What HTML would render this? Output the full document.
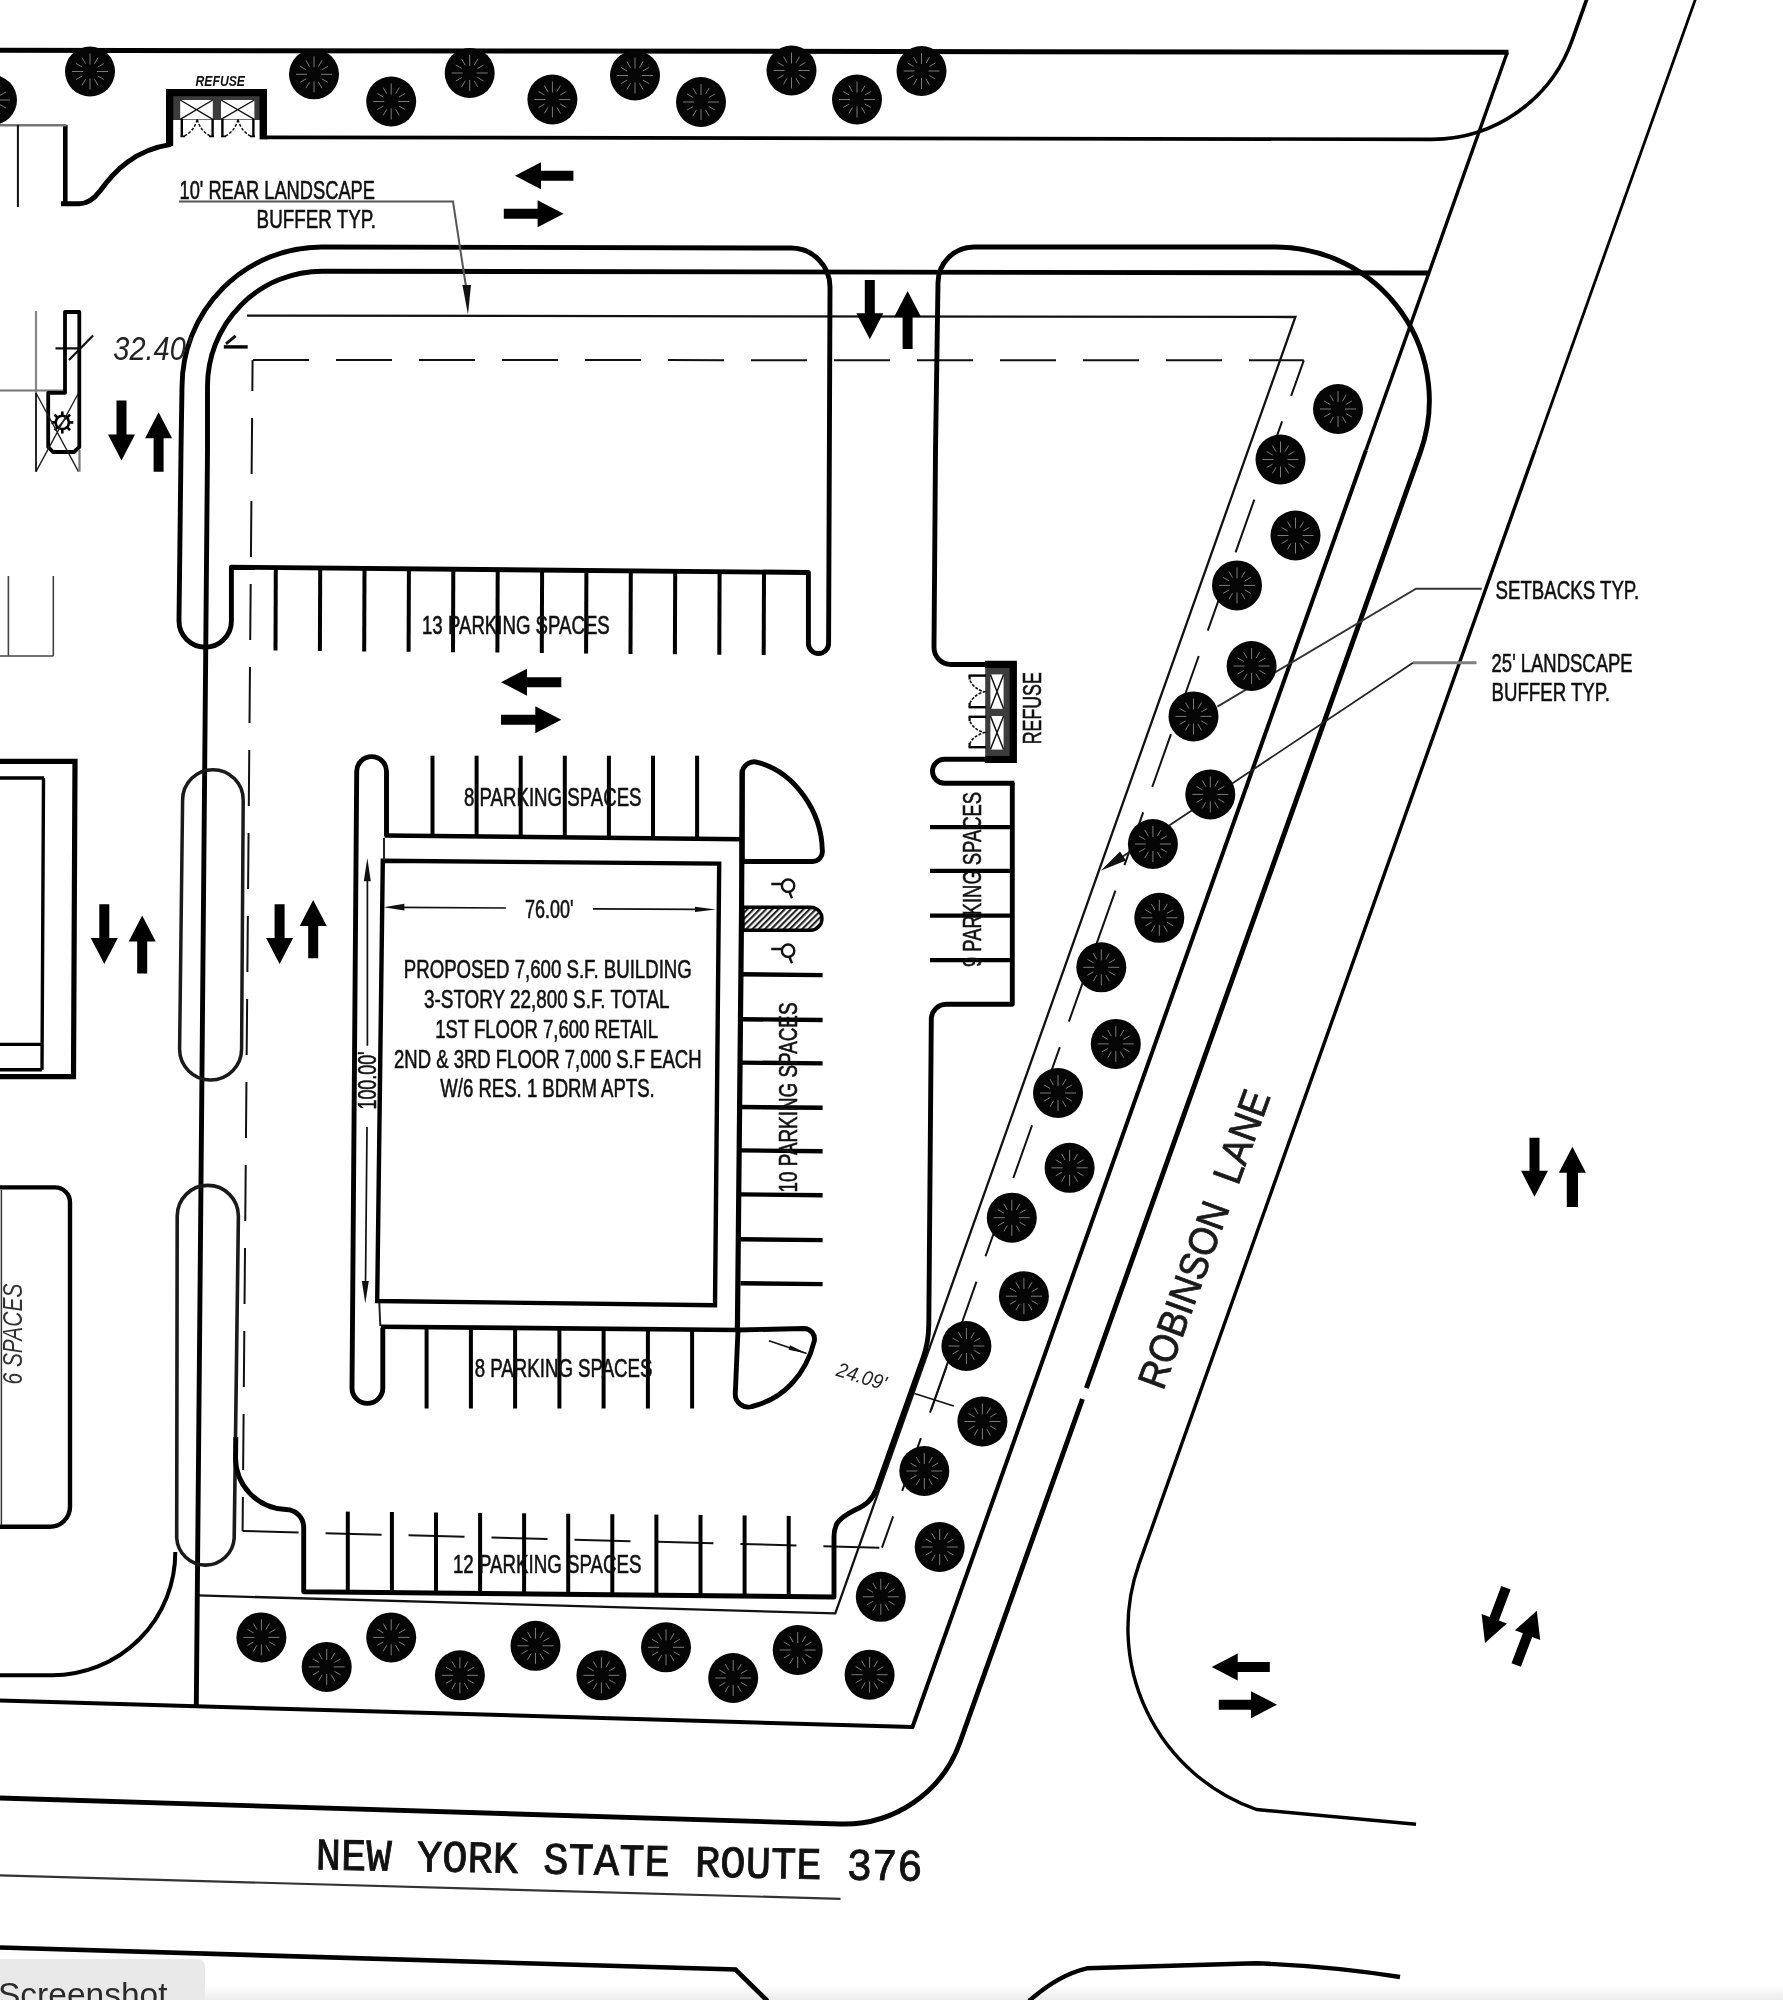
<!DOCTYPE html>
<html><head><meta charset="utf-8"><title>Site Plan</title>
<style>
html,body{margin:0;padding:0;background:#fff;}
body{width:1783px;height:2000px;overflow:hidden;position:relative;font-family:"Liberation Sans",sans-serif;}
svg{position:absolute;left:0;top:0;display:block;will-change:transform;}
svg text{font-family:"Liberation Sans",sans-serif;}
#tab{will-change:transform;position:absolute;left:0;top:1959px;width:205px;height:41px;background:#e9e9e9;border-top-right-radius:7px;overflow:hidden;}
#tab span{position:absolute;left:-2px;top:16px;font-size:33.5px;line-height:40px;color:#2b2b2b;white-space:nowrap;}
</style></head><body>
<svg width="1783" height="2000" viewBox="0 0 1783 2000">
<defs>
<g id="tr"><circle r="25" fill="#050505"/><path d="M0 -7L0 -18M4.5 -7.8L8 -13.9M7.8 -4.5L13.9 -8M7 -0L18 -0M7.8 4.5L13.9 8M4.5 7.8L8 13.9M0 7L0 18M-4.5 7.8L-8 13.9M-7.8 4.5L-13.9 8M-7 0L-18 0M-7.8 -4.5L-13.9 -8M-4.5 -7.8L-8 -13.9" stroke="#7a7a7a" stroke-width="1" fill="none"/></g>
<pattern id="hatch" width="4.4" height="4.4" patternUnits="userSpaceOnUse" patternTransform="rotate(45)"><rect width="4.4" height="4.4" fill="#fff"/><rect width="2.1" height="4.4" fill="#222"/></pattern>
<linearGradient id="bg" x1="0" y1="0" x2="0" y2="1"><stop offset="0" stop-color="#fff"/><stop offset="1" stop-color="#ececec"/></linearGradient>
</defs>
<rect width="1783" height="2000" fill="#fff"/>
<rect x="0" y="1986" width="1783" height="14" fill="url(#bg)"/>
<line x1="0" y1="50.3" x2="1508.5" y2="52.3" stroke="#000" stroke-width="5" />
<path d="M1507.3 52.3 L1366 450" fill="none" stroke="#000" stroke-width="3.4" />
<path d="M1366 450 L912.5 1727 L0 1700.5" fill="none" stroke="#000" stroke-width="4.0" stroke-linejoin="round"/>
<path d="M266 137.3 L1432 139.3 A149 149 0 0 0 1572.4 39.5 L1587 -1.5" fill="none" stroke="#000" stroke-width="3.7" />
<path d="M1695.5 -1 L1535.1 450" fill="none" stroke="#000" stroke-width="2.8" />
<path d="M1535.1 450 L1139.1 1563.8 A192 192 0 0 0 1256.5 1809.5 L1416 1824.2" fill="none" stroke="#000" stroke-width="3.4" stroke-linejoin="round"/>
<path d="M247 315.6 L1295.4 317 L835.3 1613.4 L197.7 1595.4" fill="none" stroke="#111" stroke-width="2.3" />
<path d="M253 360 L1303.8 360.3" fill="none" stroke="#111" stroke-width="2.0" stroke-dasharray="56 27"/>
<path d="M1303.8 360.3 L882 1547.7" fill="none" stroke="#111" stroke-width="2.0" stroke-dasharray="56 27" stroke-dashoffset="18.2"/>
<path d="M242.6 1531 L882 1547.7" fill="none" stroke="#111" stroke-width="2.0" stroke-dasharray="56 27"/>
<path d="M252.6 360 L242.6 1531" fill="none" stroke="#111" stroke-width="2.0" stroke-dasharray="56 27" stroke-dashoffset="25"/>
<path d="M196.3 1706 L203.3 925 L207.5 450 L207.5 387 A115 115 0 0 1 322.5 271.2 L1429 273" fill="none" stroke="#000" stroke-width="4.9" />
<path d="M231.4 567.2 L231.4 621 A26.2 26.2 0 0 1 179 621 L181 450 L182 387 A140 140 0 0 1 322 247 L791 248 A39 39 0 0 1 830 287 L828.6 643.5 A10.1 10.1 0 0 1 808.4 643.5 L808.4 572.5 Z" fill="none" stroke="#000" stroke-width="4.9" stroke-linejoin="round"/>
<line x1="275.8" y1="567.6" x2="275.5" y2="650.6" stroke="#000" stroke-width="4.0" />
<line x1="320.2" y1="568" x2="319.9" y2="651" stroke="#000" stroke-width="4.0" />
<line x1="364.5" y1="568.4" x2="364.2" y2="651.4" stroke="#000" stroke-width="4.0" />
<line x1="408.9" y1="568.8" x2="408.6" y2="651.8" stroke="#000" stroke-width="4.0" />
<line x1="453.3" y1="569.2" x2="453" y2="652.2" stroke="#000" stroke-width="4.0" />
<line x1="497.7" y1="569.6" x2="497.4" y2="652.6" stroke="#000" stroke-width="4.0" />
<line x1="542.1" y1="570.1" x2="541.8" y2="653.1" stroke="#000" stroke-width="4.0" />
<line x1="586.4" y1="570.5" x2="586.1" y2="653.5" stroke="#000" stroke-width="4.0" />
<line x1="630.8" y1="570.9" x2="630.5" y2="653.9" stroke="#000" stroke-width="4.0" />
<line x1="675.2" y1="571.3" x2="674.9" y2="654.3" stroke="#000" stroke-width="4.0" />
<line x1="719.6" y1="571.7" x2="719.3" y2="654.7" stroke="#000" stroke-width="4.0" />
<line x1="764" y1="572.1" x2="763.7" y2="655.1" stroke="#000" stroke-width="4.0" />
<path d="M987 664.5 L951 664.5 A17 17 0 0 1 934 647.5 L935.5 450 L938 283 A36 36 0 0 1 974 247 L1276.5 247 A153.5 153.5 0 0 1 1420.5 451.9 L960 1742.2 A123 123 0 0 1 840.3 1824 L0 1798" fill="none" stroke="#000" stroke-width="4.9" />
<line x1="1086.2" y1="1388" x2="1082.3" y2="1399" stroke="#fff" stroke-width="8" />
<rect x="166" y="89" width="101" height="31" fill="#3c3c3c"/>
<path d="M169.6 120 L169.6 92.6 L263.3 92.6 L263.3 120" fill="none" stroke="#000" stroke-width="7.2" />
<rect x="180.2" y="100" width="32.6" height="19.3" fill="#fff"/>
<rect x="221" y="100" width="33.4" height="19.3" fill="#fff"/>
<path d="M180.2 100L212.8 119.3M212.8 100L180.2 119.3M221 100L254.4 119.3M254.4 100L221 119.3" fill="none" stroke="#111" stroke-width="1.4" />
<line x1="169.6" y1="89" x2="169.6" y2="146" stroke="#000" stroke-width="7.2" />
<line x1="263.3" y1="89" x2="263.3" y2="139.4" stroke="#000" stroke-width="7.4" />
<line x1="181.8" y1="119" x2="181.8" y2="137" stroke="#000" stroke-width="2.4" />
<line x1="212.6" y1="119" x2="212.6" y2="137" stroke="#000" stroke-width="2.4" />
<line x1="222.4" y1="119" x2="222.4" y2="137" stroke="#000" stroke-width="2.4" />
<line x1="253.4" y1="119" x2="253.4" y2="137" stroke="#000" stroke-width="2.4" />
<path d="M180.6 136.4L185 136.4M209 136.4L214 136.4M221 136.4L226 136.4M250 136.4L255 136.4" fill="none" stroke="#000" stroke-width="1.8" />
<path d="M197.2 119.5 Q194 131 184.5 136 M197.2 119.5 Q200.5 131 210 136 M238 119.5 Q235 131 225.5 136 M238 119.5 Q241 131 250.5 136" fill="none" stroke="#111" stroke-width="1.5" stroke-dasharray="3 1.6"/>
<text x="195.5" y="86.3" font-size="15.5" text-anchor="start" fill="#111" textLength="49.5" lengthAdjust="spacingAndGlyphs" style="font-weight:bold;font-style:italic" >REFUSE</text>
<path d="M171 144.4 C135 150 115 170 100 191 C94 199 88 203.8 79 203.8 L61 203.8" fill="none" stroke="#000" stroke-width="5" />
<line x1="65.3" y1="206" x2="65.3" y2="125" stroke="#000" stroke-width="4.6" />
<line x1="0" y1="125.2" x2="66.5" y2="125.2" stroke="#777" stroke-width="2.4" />
<line x1="17.9" y1="125" x2="17.9" y2="207" stroke="#111" stroke-width="2" />
<text x="179.5" y="199.3" font-size="26" text-anchor="start" fill="#111" textLength="195.5" lengthAdjust="spacingAndGlyphs" style=""  stroke="#111" stroke-width="0.6">10' REAR LANDSCAPE</text>
<text x="256.6" y="228" font-size="26" text-anchor="start" fill="#111" textLength="119.5" lengthAdjust="spacingAndGlyphs" style=""  stroke="#111" stroke-width="0.6">BUFFER TYP.</text>
<path d="M179 201.6 L453 201.6 L466.5 290" fill="none" stroke="#555" stroke-width="2" />
<polygon points="468,314.5 462.4,285 471,285" fill="#111"/>
<text x="113.3" y="360.3" font-size="34" text-anchor="start" fill="#222" textLength="78" lengthAdjust="spacingAndGlyphs" style="font-style:italic" >32.40'</text>
<line x1="223.8" y1="346.9" x2="247.7" y2="346.9" stroke="#000" stroke-width="3.4" />
<path d="M226 343.8 L235.6 335.8" fill="none" stroke="#111" stroke-width="3" />
<path d="M93.1 335.4 L69 360.1 M55.5 348.3 L80.8 348.3" fill="none" stroke="#111" stroke-width="2.2" />
<line x1="36" y1="311" x2="36" y2="393" stroke="#888" stroke-width="2.2" />
<line x1="0" y1="390.6" x2="65" y2="390.6" stroke="#777" stroke-width="2" />
<path d="M65 312 L79.3 312 L79.3 447 L74 452 L53 452 L48.2 447 L48.2 392.8 L65 392.8 Z" fill="none" stroke="#000" stroke-width="3.8" stroke-linejoin="round"/>
<circle cx="62.3" cy="422.4" r="6.6" fill="none" stroke="#000" stroke-width="2.6"/>
<path d="M69.3 422.4L73.3 422.4M67.2 427.3L70.1 430.2M62.3 429.4L62.3 433.4M57.4 427.3L54.5 430.2M55.3 422.4L51.3 422.4M57.4 417.5L54.5 414.6M62.3 415.4L62.3 411.4M67.2 417.5L70.1 414.6" fill="none" stroke="#000" stroke-width="2.6" />
<path d="M58.5 427 L66 418" fill="none" stroke="#111" stroke-width="1.4" />
<path d="M36 393 L78.5 471.7 M78.5 393 L36 471.7" fill="none" stroke="#222" stroke-width="1.4" />
<line x1="36" y1="393" x2="36" y2="471.7" stroke="#111" stroke-width="1.8" />
<line x1="79.5" y1="450" x2="79.5" y2="471.7" stroke="#777" stroke-width="2.2" />
<path d="M8.4 576 L8.4 656 M53.3 576 L53.3 656 M0 656 L53.3 656" fill="none" stroke="#444" stroke-width="1.6" />
<path d="M0 761.3 L75 761.3 L73.5 1076.7 L0 1076.7" fill="none" stroke="#000" stroke-width="5.2" />
<path d="M0 778 L44 778 M43.5 778 L42 1069.7 M0 1044.4 L42 1044.4 M0 1069.7 L42 1069.7" fill="none" stroke="#000" stroke-width="3.4" />
<path d="M0 1187.4 L55 1187.4 A15 15 0 0 1 70 1202.4 L70 1507 A20 20 0 0 1 50 1526.7 L0 1526.7" fill="none" stroke="#000" stroke-width="4.4" />
<line x1="1.4" y1="1190" x2="1.4" y2="1525" stroke="#333" stroke-width="1.5" />
<text x="22" y="1384.6" font-size="27" text-anchor="start" fill="#333" textLength="101" lengthAdjust="spacingAndGlyphs" transform="rotate(-90 22 1384.6)" style="font-style:italic" >6 SPACES</text>
<path d="M182.6 800 A30.3 30.3 0 0 1 243.2 800 L241.6 1049 A31 31 0 0 1 179.6 1049 Z" fill="none" stroke="#1a1a1a" stroke-width="3.5" />
<path d="M177.2 1216 A30.6 30.6 0 0 1 238.4 1216 L234.2 1538 A28.8 28.8 0 0 1 176.7 1538 Z" fill="none" stroke="#1a1a1a" stroke-width="3.6" />
<path d="M175.3 1552 A123 123 0 0 1 52 1675.3 L0 1675.3" fill="none" stroke="#000" stroke-width="4" />
<path d="M235.8 1437 L235.6 1455 A52 52 0 0 0 286 1509.5 A18 18 0 0 1 303.7 1528 L303.7 1591.7 L834 1597 L834 1537 Q834 1529 837 1523.5 C840.5 1517.5 847 1514 855 1510 C866 1505 872 1500 876 1490" fill="none" stroke="#000" stroke-width="4.9" stroke-linejoin="round"/>
<line x1="347.8" y1="1592.1" x2="347.8" y2="1511.6" stroke="#000" stroke-width="4.0" />
<line x1="391.9" y1="1592.5" x2="391.9" y2="1512" stroke="#000" stroke-width="4.0" />
<line x1="436" y1="1593" x2="436" y2="1512.5" stroke="#000" stroke-width="4.0" />
<line x1="480.1" y1="1593.4" x2="480.1" y2="1512.9" stroke="#000" stroke-width="4.0" />
<line x1="524.1" y1="1593.8" x2="524.1" y2="1513.3" stroke="#000" stroke-width="4.0" />
<line x1="568.2" y1="1594.2" x2="568.2" y2="1513.7" stroke="#000" stroke-width="4.0" />
<line x1="612.3" y1="1594.7" x2="612.3" y2="1514.2" stroke="#000" stroke-width="4.0" />
<line x1="656.4" y1="1595.1" x2="656.4" y2="1514.6" stroke="#000" stroke-width="4.0" />
<line x1="700.5" y1="1595.5" x2="700.5" y2="1515" stroke="#000" stroke-width="4.0" />
<line x1="744.6" y1="1595.9" x2="744.6" y2="1515.4" stroke="#000" stroke-width="4.0" />
<line x1="788.7" y1="1596.4" x2="788.7" y2="1515.9" stroke="#000" stroke-width="4.0" />
<text x="452.9" y="1573" font-size="26" text-anchor="start" fill="#111" textLength="188.6" lengthAdjust="spacingAndGlyphs" style=""  stroke="#111" stroke-width="0.6">12 PARKING SPACES</text>
<path d="M386.5 836 L386.5 771.5 A14.9 14.9 0 0 0 356.7 771.5 L352 1388 A15.4 15.4 0 0 0 382.8 1388 L382.8 1328" fill="none" stroke="#000" stroke-width="4.9" />
<path d="M384.6 835.5 L742 839.2" fill="none" stroke="#000" stroke-width="4.4" />
<path d="M380.8 1326.7 L738.8 1330" fill="none" stroke="#000" stroke-width="4.6" />
<path d="M382.8 860.8 L719.2 863.6 L715 1305.2 L377.2 1301 Z" fill="none" stroke="#000" stroke-width="4.4" />
<line x1="432.5" y1="755.7" x2="432.5" y2="836.8" stroke="#000" stroke-width="4.0" />
<line x1="476.6" y1="755.7" x2="476.6" y2="837.1" stroke="#000" stroke-width="4.0" />
<line x1="520.7" y1="755.7" x2="520.7" y2="837.5" stroke="#000" stroke-width="4.0" />
<line x1="564.8" y1="755.7" x2="564.8" y2="837.8" stroke="#000" stroke-width="4.0" />
<line x1="608.9" y1="755.7" x2="608.9" y2="838.2" stroke="#000" stroke-width="4.0" />
<line x1="653" y1="755.7" x2="653" y2="838.5" stroke="#000" stroke-width="4.0" />
<line x1="697.1" y1="755.7" x2="697.1" y2="838.9" stroke="#000" stroke-width="4.0" />
<line x1="426.6" y1="1328.4" x2="426.6" y2="1408.5" stroke="#000" stroke-width="4.0" />
<line x1="470.9" y1="1328.7" x2="470.9" y2="1408.5" stroke="#000" stroke-width="4.0" />
<line x1="515.1" y1="1329.1" x2="515.1" y2="1408.5" stroke="#000" stroke-width="4.0" />
<line x1="559.4" y1="1329.4" x2="559.4" y2="1408.5" stroke="#000" stroke-width="4.0" />
<line x1="603.6" y1="1329.8" x2="603.6" y2="1408.5" stroke="#000" stroke-width="4.0" />
<line x1="647.9" y1="1330.1" x2="647.9" y2="1408.5" stroke="#000" stroke-width="4.0" />
<line x1="692.1" y1="1330.5" x2="692.1" y2="1408.5" stroke="#000" stroke-width="4.0" />
<text x="464" y="806" font-size="26" text-anchor="start" fill="#111" textLength="177.5" lengthAdjust="spacingAndGlyphs" style=""  stroke="#111" stroke-width="0.6">8 PARKING SPACES</text>
<text x="474.7" y="1376.7" font-size="26" text-anchor="start" fill="#111" textLength="177.8" lengthAdjust="spacingAndGlyphs" style=""  stroke="#111" stroke-width="0.6">8 PARKING SPACES</text>
<text x="422" y="633.7" font-size="26" text-anchor="start" fill="#111" textLength="187.8" lengthAdjust="spacingAndGlyphs" style=""  stroke="#111" stroke-width="0.6">13 PARKING SPACES</text>
<path d="M742.2 769.7 L741.6 905 L737.4 1330" fill="none" stroke="#000" stroke-width="5.2" />
<text x="403.8" y="978" font-size="26" text-anchor="start" fill="#111" textLength="288" lengthAdjust="spacingAndGlyphs" style=""  stroke="#111" stroke-width="0.6">PROPOSED 7,600 S.F. BUILDING</text>
<text x="424" y="1008" font-size="26" text-anchor="start" fill="#111" textLength="245.6" lengthAdjust="spacingAndGlyphs" style=""  stroke="#111" stroke-width="0.6">3-STORY 22,800 S.F. TOTAL</text>
<text x="435.2" y="1038" font-size="26" text-anchor="start" fill="#111" textLength="222.8" lengthAdjust="spacingAndGlyphs" style=""  stroke="#111" stroke-width="0.6">1ST FLOOR 7,600 RETAIL</text>
<text x="394" y="1068" font-size="26" text-anchor="start" fill="#111" textLength="307.5" lengthAdjust="spacingAndGlyphs" style=""  stroke="#111" stroke-width="0.6">2ND &amp; 3RD FLOOR 7,000 S.F EACH</text>
<text x="440.3" y="1097" font-size="26" text-anchor="start" fill="#111" textLength="214.4" lengthAdjust="spacingAndGlyphs" style=""  stroke="#111" stroke-width="0.6">W/6 RES. 1 BDRM APTS.</text>
<text x="525" y="917.6" font-size="26" text-anchor="start" fill="#111" textLength="48.5" lengthAdjust="spacingAndGlyphs" style=""  stroke="#111" stroke-width="0.6">76.00'</text>
<path d="M400 907.3 L506 908 M593 908.8 L700 909.3" fill="none" stroke="#111" stroke-width="1.7" />
<polygon points="716,909.4 695,906.8 695,912" fill="#111"/>
<polygon points="383.6,907.2 404.4,903.8 404.4,910.6" fill="#111"/>
<path d="M367.4 878 L367.4 1045.8 M367 1127 L365.5 1285" fill="none" stroke="#111" stroke-width="1.7" />
<polygon points="367.3,858 363.8,881.2 370.8,881.2" fill="#111"/>
<polygon points="365.3,1303.5 361.8,1281 368.8,1281" fill="#111"/>
<line x1="384" y1="838" x2="384" y2="860" stroke="#222" stroke-width="2" />
<line x1="379.3" y1="1303" x2="380.3" y2="1326" stroke="#222" stroke-width="2" />
<text x="375.7" y="1109.5" font-size="25" text-anchor="start" fill="#111" textLength="58" lengthAdjust="spacingAndGlyphs" transform="rotate(-90 375.7 1109.5)" style=""  stroke="#111" stroke-width="0.6">100.00'</text>
<path d="M742.2 861.5 L742.2 773 A12 12 0 0 1 757.5 762.3 C795 772 821.5 812 822.3 850 A10 10 0 0 1 812.5 861.5 Z" fill="none" stroke="#000" stroke-width="4.9" stroke-linejoin="round"/>
<path d="M738 1330 L804 1328.5 A10.5 10.5 0 0 1 814.3 1341 C806 1375 783 1399 752 1406.5 A13 13 0 0 1 735.3 1393 Z" fill="none" stroke="#000" stroke-width="4.9" stroke-linejoin="round"/>
<path d="M769 1340.7 L806.6 1353.6" fill="none" stroke="#111" stroke-width="1.6" />
<polygon points="806.6,1353.6 790,1345.2 788.6,1349.8" fill="#111"/>
<text x="835.2" y="1375.6" font-size="20.5" text-anchor="start" fill="#222" textLength="51" lengthAdjust="spacingAndGlyphs" transform="rotate(17 835.2 1375.6)" style="font-style:italic" >24.09'</text>
<circle cx="788.1" cy="885.7" r="6.2" fill="none" stroke="#111" stroke-width="2.4"/>
<path d="M771.3 884.0 L782 884.0 M789.5 892.2 L792 898.2" fill="none" stroke="#111" stroke-width="2.4" />
<circle cx="788.1" cy="950.7" r="6.2" fill="none" stroke="#111" stroke-width="2.4"/>
<path d="M771.3 949.0 L782 949.0 M789.5 957.2 L792 963.2" fill="none" stroke="#111" stroke-width="2.4" />
<path d="M743 907.2 L810.5 907.2 A11.5 11.5 0 0 1 810.5 930.2 L743 930.2 Z" fill="url(#hatch)" stroke="#000" stroke-width="3.4"/>
<line x1="740.5" y1="974.3" x2="822.6" y2="975.1" stroke="#000" stroke-width="4.4" />
<line x1="740.5" y1="1019.2" x2="822.6" y2="1020" stroke="#000" stroke-width="4.4" />
<line x1="740.5" y1="1062.6" x2="822.6" y2="1063.4" stroke="#000" stroke-width="4.4" />
<line x1="740.5" y1="1107" x2="822.6" y2="1107.8" stroke="#000" stroke-width="4.4" />
<line x1="740.5" y1="1150.4" x2="822.6" y2="1151.2" stroke="#000" stroke-width="4.4" />
<line x1="740.5" y1="1194.4" x2="822.6" y2="1195.2" stroke="#000" stroke-width="4.4" />
<line x1="740.5" y1="1239.3" x2="822.6" y2="1240.1" stroke="#000" stroke-width="4.4" />
<line x1="740.5" y1="1283.3" x2="822.6" y2="1284.1" stroke="#000" stroke-width="4.4" />
<text x="797.4" y="1192.5" font-size="26" text-anchor="start" fill="#111" textLength="190" lengthAdjust="spacingAndGlyphs" transform="rotate(-90 797.4 1192.5)" style=""  stroke="#111" stroke-width="0.6">10 PARKING SPACES</text>
<rect x="985.2" y="661.8" width="31.6" height="101.2" fill="#3c3c3c"/>
<path d="M985.2 664.3 L1013.2 664.3 L1013.2 759.5 L985.2 759.5" fill="none" stroke="#000" stroke-width="7.2" />
<rect x="990.4" y="674.4" width="13.2" height="34.4" fill="#fff"/>
<rect x="990.4" y="716" width="13.2" height="33.6" fill="#fff"/>
<path d="M990.4 674.4L1003.6 708.8M1003.6 674.4L990.4 708.8M990.4 716L1003.6 749.6M1003.6 716L990.4 749.6" fill="none" stroke="#111" stroke-width="1.5" />
<path d="M944.5 759.2 L986 759.2 M1014.4 783.2 L944.5 783.2 A12 12 0 0 1 944.5 759.2" fill="none" stroke="#000" stroke-width="4.9" />
<path d="M1012.3 783 L1012.3 1004.3 L946 1004.3 A15 15 0 0 0 931.3 1019.5 L928.8 1325 Q928.5 1343 923 1358 L876 1490" fill="none" stroke="#000" stroke-width="4.9" stroke-linejoin="round"/>
<line x1="930" y1="827.2" x2="1012.6" y2="827.2" stroke="#000" stroke-width="4.2" />
<line x1="930" y1="870.8" x2="1012.6" y2="870.8" stroke="#000" stroke-width="4.2" />
<line x1="930" y1="915.6" x2="1012.6" y2="915.6" stroke="#000" stroke-width="4.2" />
<line x1="930" y1="960.1" x2="1012.6" y2="960.1" stroke="#000" stroke-width="4.2" />
<text x="1040.6" y="744.2" font-size="26" text-anchor="start" fill="#111" textLength="72" lengthAdjust="spacingAndGlyphs" transform="rotate(-90 1040.6 744.2)" style=""  stroke="#111" stroke-width="0.6">REFUSE</text>
<text x="981" y="967" font-size="26" text-anchor="start" fill="#111" textLength="175" lengthAdjust="spacingAndGlyphs" transform="rotate(-90 981 967)" style=""  stroke="#111" stroke-width="0.6">9 PARKING SPACES</text>
<line x1="968.6" y1="675.6" x2="986" y2="675.6" stroke="#000" stroke-width="2.4" />
<line x1="968.6" y1="707.2" x2="986" y2="707.2" stroke="#000" stroke-width="2.4" />
<line x1="968.6" y1="716.8" x2="986" y2="716.8" stroke="#000" stroke-width="2.4" />
<line x1="968.6" y1="747.2" x2="986" y2="747.2" stroke="#000" stroke-width="2.4" />
<path d="M969.6 675.6 L969.6 679.5 M969.6 707.2 L969.6 703 M969.6 716.8 L969.6 721 M969.6 747.2 L969.6 743" fill="none" stroke="#000" stroke-width="2.2" />
<path d="M970 680.5 Q974 689 984.5 691.8 Q974 694.5 970 703 M970 721.5 Q974 730 984.5 732.6 Q974 735.5 970 743" fill="none" stroke="#111" stroke-width="1.6" stroke-dasharray="3 1.4"/>
<text x="1495.5" y="599" font-size="26" text-anchor="start" fill="#111" textLength="143.6" lengthAdjust="spacingAndGlyphs" style=""  stroke="#111" stroke-width="0.6">SETBACKS TYP.</text>
<text x="1491.6" y="672" font-size="26" text-anchor="start" fill="#111" textLength="141" lengthAdjust="spacingAndGlyphs" style=""  stroke="#111" stroke-width="0.6">25' LANDSCAPE</text>
<text x="1491.6" y="700.7" font-size="26" text-anchor="start" fill="#111" textLength="118.4" lengthAdjust="spacingAndGlyphs" style=""  stroke="#111" stroke-width="0.6">BUFFER TYP.</text>
<path d="M1481.7 588.7 L1416 588.7 L1217.4 706.6" fill="none" stroke="#333" stroke-width="1.9" />
<path d="M1476.5 662.8 L1413 662.8" fill="none" stroke="#808080" stroke-width="3" />
<path d="M1413 662.8 L1110 865" fill="none" stroke="#222" stroke-width="1.8" />
<polygon points="1101,870.6 1120,851.5 1126,860.5" fill="#111"/>
<text x="1163" y="1391.2" font-size="40" text-anchor="start" fill="#1a1a1a" textLength="314" lengthAdjust="spacingAndGlyphs" transform="rotate(-69.9 1163 1391.2)" style="word-spacing:14px" stroke="#1a1a1a" stroke-width="0.8">ROBINSON LANE</text>
<text x="315.5" y="1869.2" font-size="45" text-anchor="start" fill="#111" textLength="607" lengthAdjust="spacingAndGlyphs" transform="rotate(1.1 315.5 1869.2)" style="font-family:'Liberation Mono',monospace"  stroke="#111" stroke-width="0.9">NEW YORK STATE ROUTE 376</text>
<line x1="0" y1="1875.4" x2="840.5" y2="1898.9" stroke="#333" stroke-width="2.2" />
<path d="M0 1947.5 L735.5 1969.5 L767.5 2001" fill="none" stroke="#000" stroke-width="4.6" />
<path d="M1029 2001 Q1058 1975 1087 1968.3 L1256 1963.3 Q1330 1966 1400 1977" fill="none" stroke="#000" stroke-width="4.4" />
<path d="M914.5 1393.5 L953.8 1406 M946.7 1366.8 L931.3 1410.3" fill="none" stroke="#111" stroke-width="1.5" />
<use href="#tr" x="-8" y="100"/>
<use href="#tr" x="90" y="71.5"/>
<use href="#tr" x="314" y="74.3"/>
<use href="#tr" x="391.2" y="101.5"/>
<use href="#tr" x="469.7" y="73"/>
<use href="#tr" x="552.4" y="99.5"/>
<use href="#tr" x="635" y="75.5"/>
<use href="#tr" x="701" y="102"/>
<use href="#tr" x="791.5" y="70.5"/>
<use href="#tr" x="857" y="99.5"/>
<use href="#tr" x="921.5" y="71"/>
<use href="#tr" x="1338" y="409"/>
<use href="#tr" x="1280.5" y="459.5"/>
<use href="#tr" x="1295.5" y="535.5"/>
<use href="#tr" x="1237" y="585.4"/>
<use href="#tr" x="1251.6" y="666"/>
<use href="#tr" x="1193.5" y="716.4"/>
<use href="#tr" x="1210.3" y="794.4"/>
<use href="#tr" x="1152.9" y="844"/>
<use href="#tr" x="1159.3" y="917.8"/>
<use href="#tr" x="1101.3" y="967.3"/>
<use href="#tr" x="1115.8" y="1043.9"/>
<use href="#tr" x="1058" y="1093"/>
<use href="#tr" x="1069.6" y="1167.8"/>
<use href="#tr" x="1011.8" y="1217.7"/>
<use href="#tr" x="1023.9" y="1296.2"/>
<use href="#tr" x="966.4" y="1346"/>
<use href="#tr" x="982.4" y="1421.5"/>
<use href="#tr" x="924.3" y="1471"/>
<use href="#tr" x="939.7" y="1547"/>
<use href="#tr" x="880.8" y="1596.8"/>
<use href="#tr" x="869.6" y="1674.7"/>
<use href="#tr" x="261.4" y="1637.4"/>
<use href="#tr" x="326.7" y="1666.9"/>
<use href="#tr" x="391.2" y="1637.4"/>
<use href="#tr" x="459.9" y="1675.3"/>
<use href="#tr" x="535.5" y="1645.8"/>
<use href="#tr" x="601.4" y="1675.3"/>
<use href="#tr" x="666" y="1647.3"/>
<use href="#tr" x="733.2" y="1678"/>
<use href="#tr" x="797.7" y="1650"/>
<polygon points="515,175.8 541,162.3 541,170.8 573.4,170.8 573.4,180.8 541,180.8 541,189.3" fill="#000"/>
<polygon points="563.6,213.7 537.6,227.2 537.6,218.7 503.8,218.7 503.8,208.7 537.6,208.7 537.6,200.2" fill="#000"/>
<polygon points="869.8,339.3 856.3,313.3 864.8,313.3 864.8,280 874.8,280 874.8,313.3 883.3,313.3" fill="#000"/>
<polygon points="907.6,291 921.1,317 912.6,317 912.6,349 902.6,349 902.6,317 894.1,317" fill="#000"/>
<polygon points="121.5,460.5 108,434.5 116.5,434.5 116.5,400.5 126.5,400.5 126.5,434.5 135,434.5" fill="#000"/>
<polygon points="158.6,412.3 172.1,438.3 163.6,438.3 163.6,471.7 153.6,471.7 153.6,438.3 145.1,438.3" fill="#000"/>
<polygon points="501,682.2 527,668.7 527,677.2 561.3,677.2 561.3,687.2 527,687.2 527,695.7" fill="#000"/>
<polygon points="561.3,719.8 535.3,733.3 535.3,724.8 501,724.8 501,714.8 535.3,714.8 535.3,706.3" fill="#000"/>
<polygon points="104.3,964 90.8,938 99.3,938 99.3,904.2 109.3,904.2 109.3,938 117.8,938" fill="#000"/>
<polygon points="142.2,915.4 155.7,941.4 147.2,941.4 147.2,973.5 137.2,973.5 137.2,941.4 128.7,941.4" fill="#000"/>
<polygon points="279.6,964 266.1,938 274.6,938 274.6,904.2 284.6,904.2 284.6,938 293.1,938" fill="#000"/>
<polygon points="313.2,900 326.7,926 318.2,926 318.2,958.3 308.2,958.3 308.2,926 299.7,926" fill="#000"/>
<polygon points="1534.5,1196.7 1521,1170.7 1529.5,1170.7 1529.5,1137.8 1539.5,1137.8 1539.5,1170.7 1548,1170.7" fill="#000"/>
<polygon points="1572.4,1146.8 1585.9,1172.8 1578,1172.8 1578,1207 1566.8,1207 1566.8,1172.8 1558.9,1172.8" fill="#000"/>
<polygon points="1211.7,1666.9 1237.7,1653.4 1237.7,1661.9 1269.8,1661.9 1269.8,1671.9 1237.7,1671.9 1237.7,1680.4" fill="#000"/>
<polygon points="1277,1704.7 1251,1718.2 1251,1709.7 1218.8,1709.7 1218.8,1699.7 1251,1699.7 1251,1691.2" fill="#000"/>
<polygon points="1485,1643 1481.6,1613.9 1489.6,1616.9 1501.3,1586.1 1510.6,1589.6 1498.9,1620.5 1506.9,1623.5" fill="#000"/>
<polygon points="1536.8,1610.8 1540.2,1639.9 1532.2,1636.9 1520.9,1666.8 1511.5,1663.2 1522.9,1633.3 1514.9,1630.3" fill="#000"/>
</svg>
<div id="tab"><span>Screenshot</span></div>
</body></html>
